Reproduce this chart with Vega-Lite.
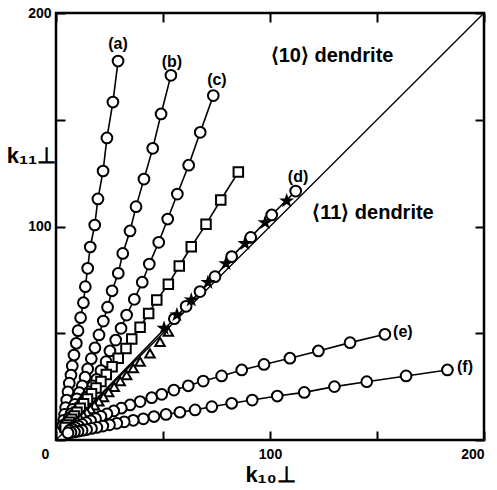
{
  "$schema": "https://vega.github.io/schema/vega-lite/v6.json",
  "width": 428,
  "height": 427,
  "autosize": {"type": "none"},
  "padding": {"left": 56, "top": 13, "right": 13, "bottom": 50},
  "background": "white",
  "config": {
    "view": {"stroke": "black", "strokeWidth": 2.5},
    "axis": {
      "domain": false, "grid": false, "tickColor": "black", "tickWidth": 2, "tickSize": -9,
      "labelFont": "Liberation Sans", "labelFontWeight": "bold", "labelFontSize": 14, "labelColor": "black",
      "titleFont": "Liberation Sans", "titleFontWeight": "bold", "titleColor": "black"
    }
  },
  "datasets": {
    "diag": [{"x": 0, "y": 0}, {"x": 200, "y": 200}],
    "labels": [
      {"t": "⟨10⟩ dendrite", "x": 129, "y": 179.9, "k": "big"},
      {"t": "⟨11⟩ dendrite", "x": 148.1, "y": 106.3, "k": "big"},
      {"t": "(a)", "x": 29, "y": 185.5, "k": "small"},
      {"t": "(b)", "x": 54.2, "y": 177, "k": "small"},
      {"t": "(c)", "x": 75.2, "y": 168.6, "k": "small"},
      {"t": "(d)", "x": 113.1, "y": 123.2, "k": "small"},
      {"t": "(e)", "x": 162.1, "y": 50.6, "k": "small"},
      {"t": "(f)", "x": 191.1, "y": 34.2, "k": "small"}
    ],
    "pts": [
      {"s": "a", "m": "circle", "x": 29.0, "y": 177.5},
      {"s": "a", "m": "circle", "x": 26.6, "y": 158.3},
      {"s": "a", "m": "circle", "x": 23.8, "y": 141.5},
      {"s": "a", "m": "circle", "x": 22.0, "y": 126.0},
      {"s": "a", "m": "circle", "x": 19.6, "y": 112.9},
      {"s": "a", "m": "circle", "x": 18.1, "y": 100.7},
      {"s": "a", "m": "circle", "x": 16.0, "y": 90.4},
      {"s": "a", "m": "circle", "x": 14.8, "y": 80.4},
      {"s": "a", "m": "circle", "x": 13.7, "y": 71.8},
      {"s": "a", "m": "circle", "x": 12.8, "y": 64.3},
      {"s": "a", "m": "circle", "x": 11.5, "y": 57.3},
      {"s": "a", "m": "circle", "x": 10.3, "y": 51.2},
      {"s": "a", "m": "circle", "x": 9.5, "y": 45.3},
      {"s": "a", "m": "circle", "x": 8.4, "y": 39.8},
      {"s": "a", "m": "circle", "x": 7.6, "y": 34.7},
      {"s": "a", "m": "circle", "x": 7.0, "y": 30.4},
      {"s": "a", "m": "circle", "x": 6.2, "y": 26.6},
      {"s": "a", "m": "circle", "x": 5.6, "y": 22.6},
      {"s": "a", "m": "circle", "x": 5.0, "y": 18.7},
      {"s": "a", "m": "circle", "x": 4.5, "y": 15.2},
      {"s": "a", "m": "circle", "x": 4.0, "y": 12.0},
      {"s": "a", "m": "circle", "x": 3.6, "y": 9.2},
      {"s": "a", "m": "circle", "x": 3.2, "y": 6.8},
      {"s": "b", "m": "circle", "x": 53.7, "y": 170.8},
      {"s": "b", "m": "circle", "x": 49.1, "y": 152.7},
      {"s": "b", "m": "circle", "x": 45.2, "y": 136.6},
      {"s": "b", "m": "circle", "x": 41.1, "y": 122.2},
      {"s": "b", "m": "circle", "x": 37.4, "y": 109.3},
      {"s": "b", "m": "circle", "x": 34.6, "y": 97.9},
      {"s": "b", "m": "circle", "x": 31.2, "y": 87.4},
      {"s": "b", "m": "circle", "x": 29.1, "y": 78.1},
      {"s": "b", "m": "circle", "x": 26.2, "y": 69.9},
      {"s": "b", "m": "circle", "x": 24.1, "y": 62.2},
      {"s": "b", "m": "circle", "x": 22.1, "y": 55.7},
      {"s": "b", "m": "circle", "x": 20.1, "y": 49.2},
      {"s": "b", "m": "circle", "x": 18.2, "y": 43.2},
      {"s": "b", "m": "circle", "x": 16.5, "y": 38.1},
      {"s": "b", "m": "circle", "x": 14.8, "y": 33.3},
      {"s": "b", "m": "circle", "x": 13.6, "y": 29.4},
      {"s": "b", "m": "circle", "x": 12.3, "y": 25.4},
      {"s": "b", "m": "circle", "x": 10.9, "y": 22.2},
      {"s": "b", "m": "circle", "x": 9.8, "y": 19.3},
      {"s": "b", "m": "circle", "x": 8.8, "y": 16.7},
      {"s": "b", "m": "circle", "x": 7.8, "y": 14.4},
      {"s": "b", "m": "circle", "x": 7.0, "y": 12.3},
      {"s": "b", "m": "circle", "x": 6.2, "y": 10.4},
      {"s": "b", "m": "circle", "x": 5.5, "y": 8.7},
      {"s": "b", "m": "circle", "x": 4.8, "y": 7.2},
      {"s": "b", "m": "circle", "x": 4.2, "y": 5.9},
      {"s": "c", "m": "circle", "x": 73.5, "y": 161.3},
      {"s": "c", "m": "circle", "x": 67.4, "y": 144.1},
      {"s": "c", "m": "circle", "x": 62.0, "y": 128.7},
      {"s": "c", "m": "circle", "x": 56.7, "y": 115.2},
      {"s": "c", "m": "circle", "x": 52.2, "y": 103.5},
      {"s": "c", "m": "circle", "x": 48.0, "y": 92.6},
      {"s": "c", "m": "circle", "x": 43.6, "y": 82.4},
      {"s": "c", "m": "circle", "x": 40.3, "y": 73.9},
      {"s": "c", "m": "circle", "x": 36.6, "y": 65.9},
      {"s": "c", "m": "circle", "x": 33.0, "y": 58.5},
      {"s": "c", "m": "circle", "x": 30.4, "y": 52.3},
      {"s": "c", "m": "circle", "x": 27.9, "y": 46.8},
      {"s": "c", "m": "circle", "x": 25.2, "y": 41.7},
      {"s": "c", "m": "circle", "x": 23.4, "y": 36.7},
      {"s": "c", "m": "circle", "x": 21.0, "y": 32.5},
      {"s": "c", "m": "circle", "x": 19.0, "y": 28.4},
      {"s": "c", "m": "circle", "x": 17.2, "y": 25.3},
      {"s": "c", "m": "circle", "x": 15.5, "y": 22.5},
      {"s": "c", "m": "circle", "x": 14.0, "y": 20.0},
      {"s": "c", "m": "circle", "x": 12.5, "y": 17.7},
      {"s": "c", "m": "circle", "x": 11.2, "y": 15.6},
      {"s": "c", "m": "circle", "x": 10.0, "y": 13.7},
      {"s": "c", "m": "circle", "x": 8.8, "y": 12.0},
      {"s": "c", "m": "circle", "x": 7.7, "y": 10.4},
      {"s": "c", "m": "circle", "x": 6.7, "y": 9.0},
      {"s": "c", "m": "circle", "x": 5.8, "y": 7.7},
      {"s": "c", "m": "circle", "x": 5.0, "y": 6.5},
      {"s": "c", "m": "circle", "x": 4.2, "y": 5.4},
      {"s": "sq", "m": "square", "x": 85.2, "y": 125.5},
      {"s": "sq", "m": "square", "x": 77.0, "y": 112.4},
      {"s": "sq", "m": "square", "x": 70.1, "y": 101.0},
      {"s": "sq", "m": "square", "x": 63.2, "y": 90.5},
      {"s": "sq", "m": "square", "x": 57.6, "y": 81.5},
      {"s": "sq", "m": "square", "x": 52.5, "y": 72.9},
      {"s": "sq", "m": "square", "x": 47.1, "y": 65.6},
      {"s": "sq", "m": "square", "x": 43.3, "y": 59.3},
      {"s": "sq", "m": "square", "x": 39.3, "y": 52.8},
      {"s": "sq", "m": "square", "x": 35.4, "y": 47.3},
      {"s": "sq", "m": "square", "x": 32.7, "y": 42.9},
      {"s": "sq", "m": "square", "x": 29.1, "y": 38.3},
      {"s": "sq", "m": "square", "x": 26.2, "y": 34.3},
      {"s": "sq", "m": "square", "x": 23.5, "y": 30.7},
      {"s": "sq", "m": "square", "x": 21.0, "y": 27.4},
      {"s": "sq", "m": "square", "x": 18.7, "y": 24.4},
      {"s": "sq", "m": "square", "x": 16.6, "y": 21.7},
      {"s": "sq", "m": "square", "x": 14.7, "y": 19.2},
      {"s": "sq", "m": "square", "x": 12.9, "y": 17.0},
      {"s": "sq", "m": "square", "x": 11.3, "y": 14.9},
      {"s": "sq", "m": "square", "x": 9.8, "y": 13.0},
      {"s": "sq", "m": "square", "x": 8.5, "y": 11.3},
      {"s": "sq", "m": "square", "x": 7.3, "y": 9.7},
      {"s": "sq", "m": "square", "x": 6.2, "y": 8.3},
      {"s": "sq", "m": "square", "x": 5.2, "y": 7.0},
      {"s": "sq", "m": "square", "x": 4.3, "y": 5.8},
      {"s": "d", "m": "circle", "x": 112.0, "y": 116.6},
      {"s": "d", "m": "circle", "x": 100.8, "y": 105.4},
      {"s": "d", "m": "circle", "x": 91.0, "y": 94.9},
      {"s": "d", "m": "circle", "x": 82.1, "y": 85.9},
      {"s": "d", "m": "circle", "x": 74.3, "y": 76.5},
      {"s": "d", "m": "circle", "x": 67.3, "y": 69.5},
      {"s": "d", "m": "circle", "x": 60.8, "y": 62.6},
      {"s": "d", "m": "circle", "x": 55.3, "y": 56.8},
      {"s": "d", "m": "line", "x": 50.2, "y": 51.5},
      {"s": "d", "m": "line", "x": 41.2, "y": 42.2},
      {"s": "d", "m": "line", "x": 30.4, "y": 31.1},
      {"s": "d", "m": "line", "x": 19.8, "y": 20.2},
      {"s": "d", "m": "line", "x": 10.6, "y": 10.8},
      {"s": "d", "m": "line", "x": 5.6, "y": 5.8},
      {"s": "tri", "m": "triangle", "x": 52.5, "y": 50.7},
      {"s": "tri", "m": "triangle", "x": 48.6, "y": 46.0},
      {"s": "tri", "m": "triangle", "x": 43.9, "y": 40.6},
      {"s": "tri", "m": "triangle", "x": 39.3, "y": 36.7},
      {"s": "tri", "m": "triangle", "x": 36.1, "y": 33.6},
      {"s": "tri", "m": "triangle", "x": 33.0, "y": 30.4},
      {"s": "tri", "m": "triangle", "x": 30.0, "y": 27.6},
      {"s": "tri", "m": "triangle", "x": 27.2, "y": 24.9},
      {"s": "tri", "m": "triangle", "x": 24.6, "y": 22.4},
      {"s": "tri", "m": "triangle", "x": 22.2, "y": 20.1},
      {"s": "tri", "m": "triangle", "x": 20.0, "y": 18.1},
      {"s": "tri", "m": "triangle", "x": 18.0, "y": 16.2},
      {"s": "tri", "m": "triangle", "x": 16.1, "y": 14.5},
      {"s": "tri", "m": "triangle", "x": 14.4, "y": 12.9},
      {"s": "tri", "m": "triangle", "x": 12.8, "y": 11.4},
      {"s": "tri", "m": "triangle", "x": 11.3, "y": 10.0},
      {"s": "tri", "m": "triangle", "x": 9.9, "y": 8.8},
      {"s": "tri", "m": "triangle", "x": 8.6, "y": 7.6},
      {"s": "tri", "m": "triangle", "x": 7.4, "y": 6.5},
      {"s": "tri", "m": "triangle", "x": 6.3, "y": 5.5},
      {"s": "tri", "m": "triangle", "x": 5.3, "y": 4.6},
      {"s": "star", "m": "star", "x": 107.8, "y": 112.0},
      {"s": "star", "m": "star", "x": 97.7, "y": 101.8},
      {"s": "star", "m": "star", "x": 88.3, "y": 92.0},
      {"s": "star", "m": "star", "x": 79.4, "y": 82.6},
      {"s": "star", "m": "star", "x": 71.0, "y": 73.8},
      {"s": "star", "m": "star", "x": 63.2, "y": 65.6},
      {"s": "star", "m": "star", "x": 56.5, "y": 58.6},
      {"s": "star", "m": "star", "x": 50.5, "y": 52.3},
      {"s": "e", "m": "circle", "x": 153.7, "y": 49.5},
      {"s": "e", "m": "circle", "x": 137.4, "y": 45.6},
      {"s": "e", "m": "circle", "x": 122.6, "y": 41.7},
      {"s": "e", "m": "circle", "x": 109.3, "y": 38.3},
      {"s": "e", "m": "circle", "x": 97.2, "y": 35.4},
      {"s": "e", "m": "circle", "x": 86.8, "y": 32.8},
      {"s": "e", "m": "circle", "x": 77.4, "y": 30.0},
      {"s": "e", "m": "circle", "x": 68.8, "y": 27.6},
      {"s": "e", "m": "circle", "x": 61.8, "y": 25.4},
      {"s": "e", "m": "circle", "x": 55.1, "y": 23.4},
      {"s": "e", "m": "circle", "x": 49.4, "y": 21.4},
      {"s": "e", "m": "circle", "x": 44.7, "y": 19.8},
      {"s": "e", "m": "circle", "x": 39.3, "y": 18.0},
      {"s": "e", "m": "circle", "x": 34.6, "y": 16.4},
      {"s": "e", "m": "circle", "x": 30.5, "y": 14.9},
      {"s": "e", "m": "circle", "x": 27.0, "y": 13.6},
      {"s": "e", "m": "circle", "x": 23.8, "y": 12.3},
      {"s": "e", "m": "circle", "x": 21.0, "y": 11.1},
      {"s": "e", "m": "circle", "x": 18.5, "y": 10.0},
      {"s": "e", "m": "circle", "x": 16.2, "y": 9.0},
      {"s": "e", "m": "circle", "x": 14.1, "y": 8.1},
      {"s": "e", "m": "circle", "x": 12.2, "y": 7.3},
      {"s": "e", "m": "circle", "x": 10.5, "y": 6.5},
      {"s": "e", "m": "circle", "x": 9.0, "y": 5.8},
      {"s": "e", "m": "circle", "x": 7.6, "y": 5.1},
      {"s": "e", "m": "circle", "x": 6.3, "y": 4.5},
      {"s": "f", "m": "circle", "x": 182.9, "y": 32.8},
      {"s": "f", "m": "circle", "x": 163.6, "y": 30.0},
      {"s": "f", "m": "circle", "x": 145.2, "y": 27.3},
      {"s": "f", "m": "circle", "x": 130.1, "y": 25.0},
      {"s": "f", "m": "circle", "x": 116.0, "y": 22.3},
      {"s": "f", "m": "circle", "x": 103.4, "y": 20.6},
      {"s": "f", "m": "circle", "x": 91.7, "y": 18.7},
      {"s": "f", "m": "circle", "x": 82.1, "y": 17.2},
      {"s": "f", "m": "circle", "x": 72.8, "y": 15.6},
      {"s": "f", "m": "circle", "x": 65.0, "y": 14.1},
      {"s": "f", "m": "circle", "x": 57.9, "y": 13.0},
      {"s": "f", "m": "circle", "x": 51.4, "y": 12.0},
      {"s": "f", "m": "circle", "x": 45.8, "y": 11.0},
      {"s": "f", "m": "circle", "x": 40.8, "y": 9.9},
      {"s": "f", "m": "circle", "x": 36.1, "y": 9.2},
      {"s": "f", "m": "circle", "x": 31.9, "y": 8.5},
      {"s": "f", "m": "circle", "x": 28.4, "y": 7.8},
      {"s": "f", "m": "circle", "x": 25.0, "y": 7.1},
      {"s": "f", "m": "circle", "x": 21.9, "y": 6.5},
      {"s": "f", "m": "circle", "x": 19.1, "y": 5.9},
      {"s": "f", "m": "circle", "x": 16.6, "y": 5.4},
      {"s": "f", "m": "circle", "x": 14.3, "y": 4.9},
      {"s": "f", "m": "circle", "x": 12.2, "y": 4.5},
      {"s": "f", "m": "circle", "x": 10.3, "y": 4.1},
      {"s": "f", "m": "circle", "x": 8.6, "y": 3.8},
      {"s": "f", "m": "circle", "x": 7.0, "y": 3.5},
      {"s": "f", "m": "circle", "x": 5.6, "y": 3.3}
    ]
  },
  "layer": [
    {
      "data": {"name": "diag"},
      "mark": {"type": "line", "color": "black", "strokeWidth": 1.3},
      "encoding": {
        "x": {"field": "x", "type": "quantitative", "scale": {"domain": [0, 200], "nice": false},
              "axis": {"orient": "top", "values": [0, 50, 100, 150, 200], "labels": false, "title": null}},
        "y": {"field": "y", "type": "quantitative", "scale": {"domain": [0, 200], "nice": false},
              "axis": {"orient": "right", "values": [0, 50, 100, 150, 200], "labels": false, "title": null}}
      }
    },
    {
      "layer": [
        {
          "data": {"name": "pts"},
          "transform": [{"filter": "datum.m != 'triangle' && datum.m != 'star'"}],
          "mark": {"type": "line", "color": "black", "strokeWidth": 1.6},
          "encoding": {
            "x": {"field": "x", "type": "quantitative", "scale": {"domain": [0, 200], "nice": false},
                  "axis": {"orient": "bottom", "values": [0, 50, 100, 150, 200],
                           "labelExpr": "datum.value == 50 || datum.value == 150 ? '' : datum.label",
                           "labelOffset": {"condition": {"test": "datum.value == 0", "value": -15}, "value": 0},
                           "labelPadding": 16,
                           "title": "k₁₀⊥", "titleFontSize": 22, "titlePadding": 3}},
            "y": {"field": "y", "type": "quantitative", "scale": {"domain": [0, 200], "nice": false},
                  "axis": {"orient": "left", "values": [0, 50, 100, 150, 200],
                           "labelExpr": "datum.value == 100 || datum.value == 200 ? datum.label : ''",
                           "labelPadding": 14,
                           "title": "k₁₁⊥", "titleFontSize": 22, "titleAngle": 0,
                           "titleAlign": "center", "titleBaseline": "middle", "titleX": -25, "titleY": 142}},
            "detail": {"field": "s"}
          }
        },
        {
          "data": {"name": "pts"},
          "transform": [{"filter": "datum.m != 'line'"}],
          "mark": {"type": "point", "stroke": "black", "strokeWidth": 2, "opacity": 1, "filled": false},
          "encoding": {
            "x": {"field": "x", "type": "quantitative"},
            "y": {"field": "y", "type": "quantitative"},
            "shape": {"field": "m", "type": "nominal", "legend": null,
                      "scale": {"domain": ["circle", "square", "triangle", "star"],
                                "range": ["circle", "square", "triangle-up", "M0,-1L0.225,-0.309L0.951,-0.309L0.363,0.118L0.588,0.809L0,0.382L-0.588,0.809L-0.363,0.118L-0.951,-0.309L-0.225,-0.309Z"]}},
            "fill": {"condition": {"test": "datum.m == 'star'", "value": "black"}, "value": "white"},
            "size": {"condition": {"test": "datum.m == 'circle'", "value": 115}, "value": 90}
          }
        },
        {
          "data": {"name": "labels"},
          "mark": {"type": "text", "font": "Liberation Sans", "fontWeight": "bold", "color": "black"},
          "encoding": {
            "x": {"field": "x", "type": "quantitative"},
            "y": {"field": "y", "type": "quantitative"},
            "text": {"field": "t"},
            "size": {"condition": {"test": "datum.k == 'big'", "value": 20}, "value": 16}
          }
        }
      ]
    }
  ],
  "resolve": {"axis": {"x": "independent", "y": "independent"}}
}
